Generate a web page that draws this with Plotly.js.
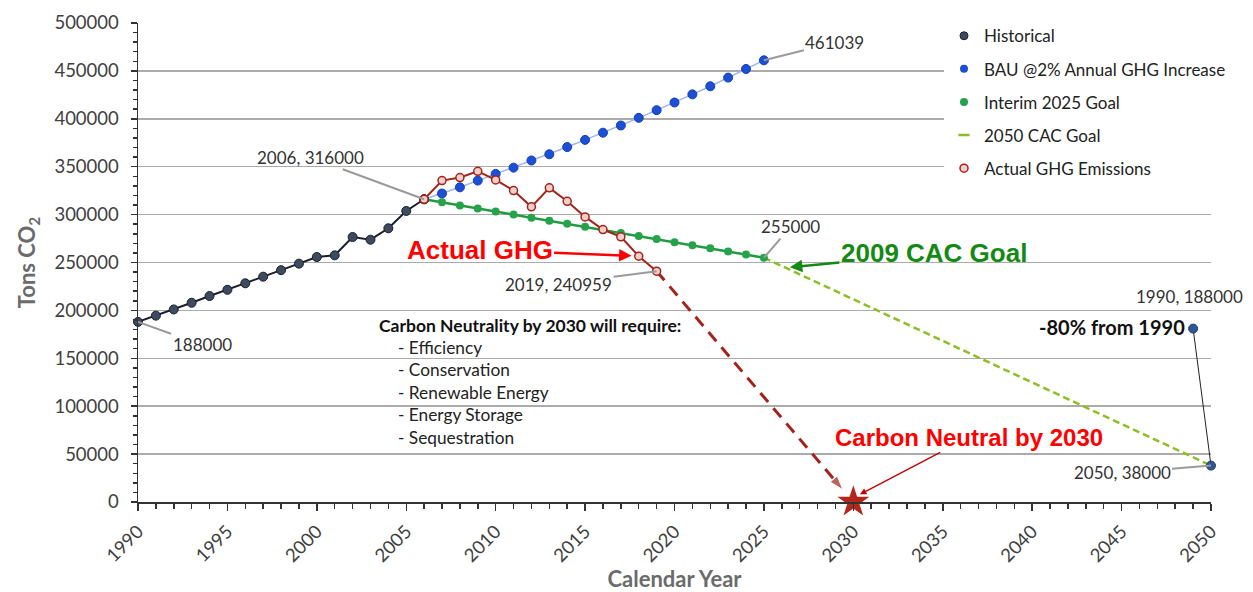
<!DOCTYPE html>
<html>
<head>
<meta charset="utf-8">
<script src="https://cdn.plot.ly/plotly-3.0.1.min.js"></script>
<style>
html,body{margin:0;padding:0;background:#fff;}
#chart{width:1253px;height:592px;}
</style>
</head>
<body>
<div id="chart"></div>
<script>
// ---- data ----
const histYears = [1990,1991,1992,1993,1994,1995,1996,1997,1998,1999,2000,2001,2002,2003,2004,2005,2006];
const histValues = [188000,194500,201000,208000,215000,221500,228300,235200,242000,248800,255700,257500,276600,273800,285700,303800,316000];

const bauYears = [2006,2007,2008,2009,2010,2011,2012,2013,2014,2015,2016,2017,2018,2019,2020,2021,2022,2023,2024,2025];
const bauValues = [316000,322000,328500,335500,342500,349000,356500,363000,370500,378000,385500,393000,401000,409000,417000,425500,434000,443000,452000,461039];

const interimYears = [2006,2007,2008,2009,2010,2011,2012,2013,2014,2015,2016,2017,2018,2019,2020,2021,2022,2023,2024,2025];
const interimValues = [316000,312800,309600,306400,303200,300000,296800,293600,290400,287200,284000,280800,277600,274400,271200,268000,264800,261600,258400,255000];

const cacYears = [2025,2050];
const cacValues = [255000,38000];

const actualYears = [2006,2007,2008,2009,2010,2011,2012,2013,2014,2015,2016,2017,2018,2019];
const actualValues = [316000,335500,338700,345200,336200,325100,308100,327900,313900,297600,284400,276800,256600,240959];

const projectionYears = [2019,2030];
const projectionValues = [240959,0];

const neutralYears = [2030];
const neutralValues = [0];

const reductionYears = [2049,2050];
const reductionValues = [181000,38000];

const legendNames = ['Historical','BAU @2% Annual GHG Increase','Interim 2025 Goal','2050 CAC Goal','Actual GHG Emissions'];

const requirementsTitle = 'Carbon Neutrality by 2030 will require:';
const requirements = ['- Efficiency','- Conservation','- Renewable Energy','- Energy Storage','- Sequestration'];

// ---- styles ----
const C = {
  hist:'#1a1f2b', histFill:'#3e4b5e',
  bau:'#1c4fd6', bauLine:'#9db4e9',
  interim:'#1f9a3d', interimFill:'#25a24b',
  cac:'#8cbf26',
  actual:'#a3231b', actualFill:'#f1cfcb',
  reduction:'#2f5597'
};
const FONT = 'Lato, "Open Sans", sans-serif';
const BOLDRED = 'Liberation Sans, Arial, sans-serif';

const traces = [
  {x:cacYears, y:cacValues, mode:'lines', line:{color:C.cac, width:2.5, dash:'7px,4px'}, showlegend:false, hoverinfo:'skip', cliponaxis:false},
  {x:bauYears, y:bauValues, mode:'lines+markers', line:{color:C.bauLine, width:1.5},
   marker:{color:C.bau, size:9, line:{color:'#1540b0', width:1}}, showlegend:false, cliponaxis:false},
  {x:interimYears, y:interimValues, mode:'lines+markers', line:{color:C.interim, width:2.5},
   marker:{color:C.interimFill, size:8}, showlegend:false, cliponaxis:false},
  {x:histYears, y:histValues, mode:'lines+markers', line:{color:C.hist, width:2},
   marker:{color:C.histFill, size:9, line:{color:C.hist, width:1}}, showlegend:false, cliponaxis:false},
  {x:projectionYears, y:projectionValues, mode:'lines+markers', line:{color:C.actual, width:3, dash:'12px,8px'},
   marker:{symbol:['circle','arrow'], size:[0,15], angleref:'previous', standoff:[0,16], color:C.actual}, showlegend:false, cliponaxis:false},
  {x:actualYears, y:actualValues, mode:'lines+markers', line:{color:C.actual, width:2},
   marker:{color:C.actualFill, size:8, line:{color:C.actual, width:1.5}}, showlegend:false, cliponaxis:false},
  {x:neutralYears, y:neutralValues, mode:'markers', marker:{symbol:'star', size:24, color:'#b3261a'}, showlegend:false, cliponaxis:false},
  {x:reductionYears, y:reductionValues, mode:'lines+markers', line:{color:'#222', width:1},
   marker:{color:C.reduction, size:9, line:{color:'#1e3a6e', width:1}}, showlegend:false, cliponaxis:false},
  // legend entries
  {x:[null], y:[null], mode:'markers', name:legendNames[0], legendgroup:'a', marker:{color:C.histFill, size:8, line:{color:C.hist,width:1}}},
  {x:[null], y:[null], mode:'markers', name:legendNames[1], legendgroup:'b', marker:{color:C.bau, size:8}},
  {x:[null], y:[null], mode:'markers', name:legendNames[2], legendgroup:'c', marker:{color:C.interimFill, size:8}},
  {x:[null], y:[null], mode:'markers', name:legendNames[3], legendgroup:'d', marker:{symbol:'line-ew', size:8, line:{color:C.cac, width:2.5}}},
  {x:[null], y:[null], mode:'markers', name:legendNames[4], legendgroup:'e', marker:{color:C.actualFill, size:8, line:{color:C.actual,width:1.5}}}
];

function callout(x, y, text, ax, ay) {
  return {x:x, y:y, text:text, showarrow:true, arrowhead:0, arrowwidth:2, arrowcolor:'#9a9a9a',
          ax:ax, ay:ay, font:{family:FONT, size:17, color:'#333'}};
}

const annotations = [
  callout(histYears[16], histValues[16], histYears[16] + ', ' + histValues[16], -114, -42),
  callout(bauYears[19], bauValues[19], String(bauValues[19]), 71, -18),
  callout(interimYears[19], interimValues[19], String(interimValues[19]), 27, -31),
  callout(actualYears[13], actualValues[13], actualYears[13] + ', ' + actualValues[13], -98, 13),
  callout(histYears[0], histValues[0], String(histValues[0]), 64, 23),
  callout(cacYears[1], cacValues[1], cacYears[1] + ', ' + cacValues[1], -89, 7),
  {x:reductionYears[0], y:reductionValues[0], text:histYears[0] + ', ' + histValues[0], showarrow:false,
   xshift:-4, yshift:32, font:{family:FONT, size:17, color:'#333'}},
  {x:reductionYears[0], y:reductionValues[0], text:'<b>-80% from 1990</b>', showarrow:false, xanchor:'right',
   xshift:-6, yshift:2, font:{family:FONT, size:20, color:'#111'}},
  // big labels
  {x:2017.6, y:257000, text:'<b>Actual GHG</b>', showarrow:true, arrowhead:2, arrowsize:1, arrowwidth:2.5,
   arrowcolor:'#ff0000', ax:-152, ay:-6, font:{family:BOLDRED, size:26, color:'#ff0000'}},
  {x:2026.45, y:245000, text:'<b>2009 CAC Goal</b>', showarrow:true, arrowhead:2, arrowsize:1, arrowwidth:2.5,
   arrowcolor:'#138a13', ax:144, ay:-14, font:{family:BOLDRED, size:26, color:'#138a13'}},
  {x:2030.37, y:8000, text:'<b>Carbon Neutral by 2030</b>', showarrow:true, arrowhead:2, arrowsize:1, arrowwidth:1.3,
   arrowcolor:'#c00000', ax:109, ay:-57, font:{family:BOLDRED, size:24, color:'#ff0000'}},
  // requirements box
  {xref:'paper', yref:'paper', x:(377-138)/1073, y:(502.7-326)/479.4, xanchor:'left', yanchor:'middle', showarrow:false,
   text:'<b>' + requirementsTitle + '</b>', font:{family:FONT, size:17.5, color:'#111'}},
  {xref:'paper', yref:'paper', x:(396-138)/1073, y:(502.7-393.5)/479.4, xanchor:'left', yanchor:'middle', showarrow:false,
   align:'left', text:requirements.join('<br>'), font:{family:FONT, size:17.3, color:'#222'}}
];

const layout = {
  width:1253, height:592,
  margin:{l:138, r:42, t:23, b:90},
  paper_bgcolor:'#fff', plot_bgcolor:'#fff',
  font:{family:FONT, color:'#333'},
  showlegend:true,
  legend:{x:(944-138)/1073, y:1.01, xanchor:'left', yanchor:'top', bgcolor:'#fff',
          font:{family:FONT, size:17, color:'#222'}, traceorder:'grouped', tracegroupgap:8, itemwidth:30},
  xaxis:{range:[1990,2050], tick0:1990, dtick:5, tickangle:-45, ticks:'outside', ticklen:7, tickwidth:1.5, tickcolor:'#333',
         minor:{dtick:1, ticks:'outside', ticklen:5, tickcolor:'#333', showgrid:false},
         showline:true, linecolor:'#333', linewidth:1.5, showgrid:false, zeroline:false,
         tickfont:{family:FONT, size:18.5, color:'#404040'}, ticklabelstandoff:3,
         title:{text:'<b>Calendar Year</b>', font:{family:FONT, size:22, color:'#6b6b6b'}, standoff:10}},
  yaxis:{range:[0,500000], dtick:50000, tickformat:'d', ticks:'outside', ticklen:6, tickwidth:1.5, tickcolor:'#333',
         minor:{dtick:10000, ticks:'outside', ticklen:4, tickcolor:'#333', showgrid:false},
         showline:true, linecolor:'#333', linewidth:1.5, showgrid:true, gridcolor:'#ababab', gridwidth:1.5, zeroline:false,
         tickfont:{family:FONT, size:18.5, color:'#404040'}, ticklabelstandoff:8,
         title:{text:'<b>Tons CO<sub>2</sub></b>', font:{family:FONT, size:22, color:'#6b6b6b'}, standoff:12}},
  annotations:annotations
};

Plotly.newPlot('chart', traces, layout, {displayModeBar:false, staticPlot:true});
</script>
</body>
</html>
